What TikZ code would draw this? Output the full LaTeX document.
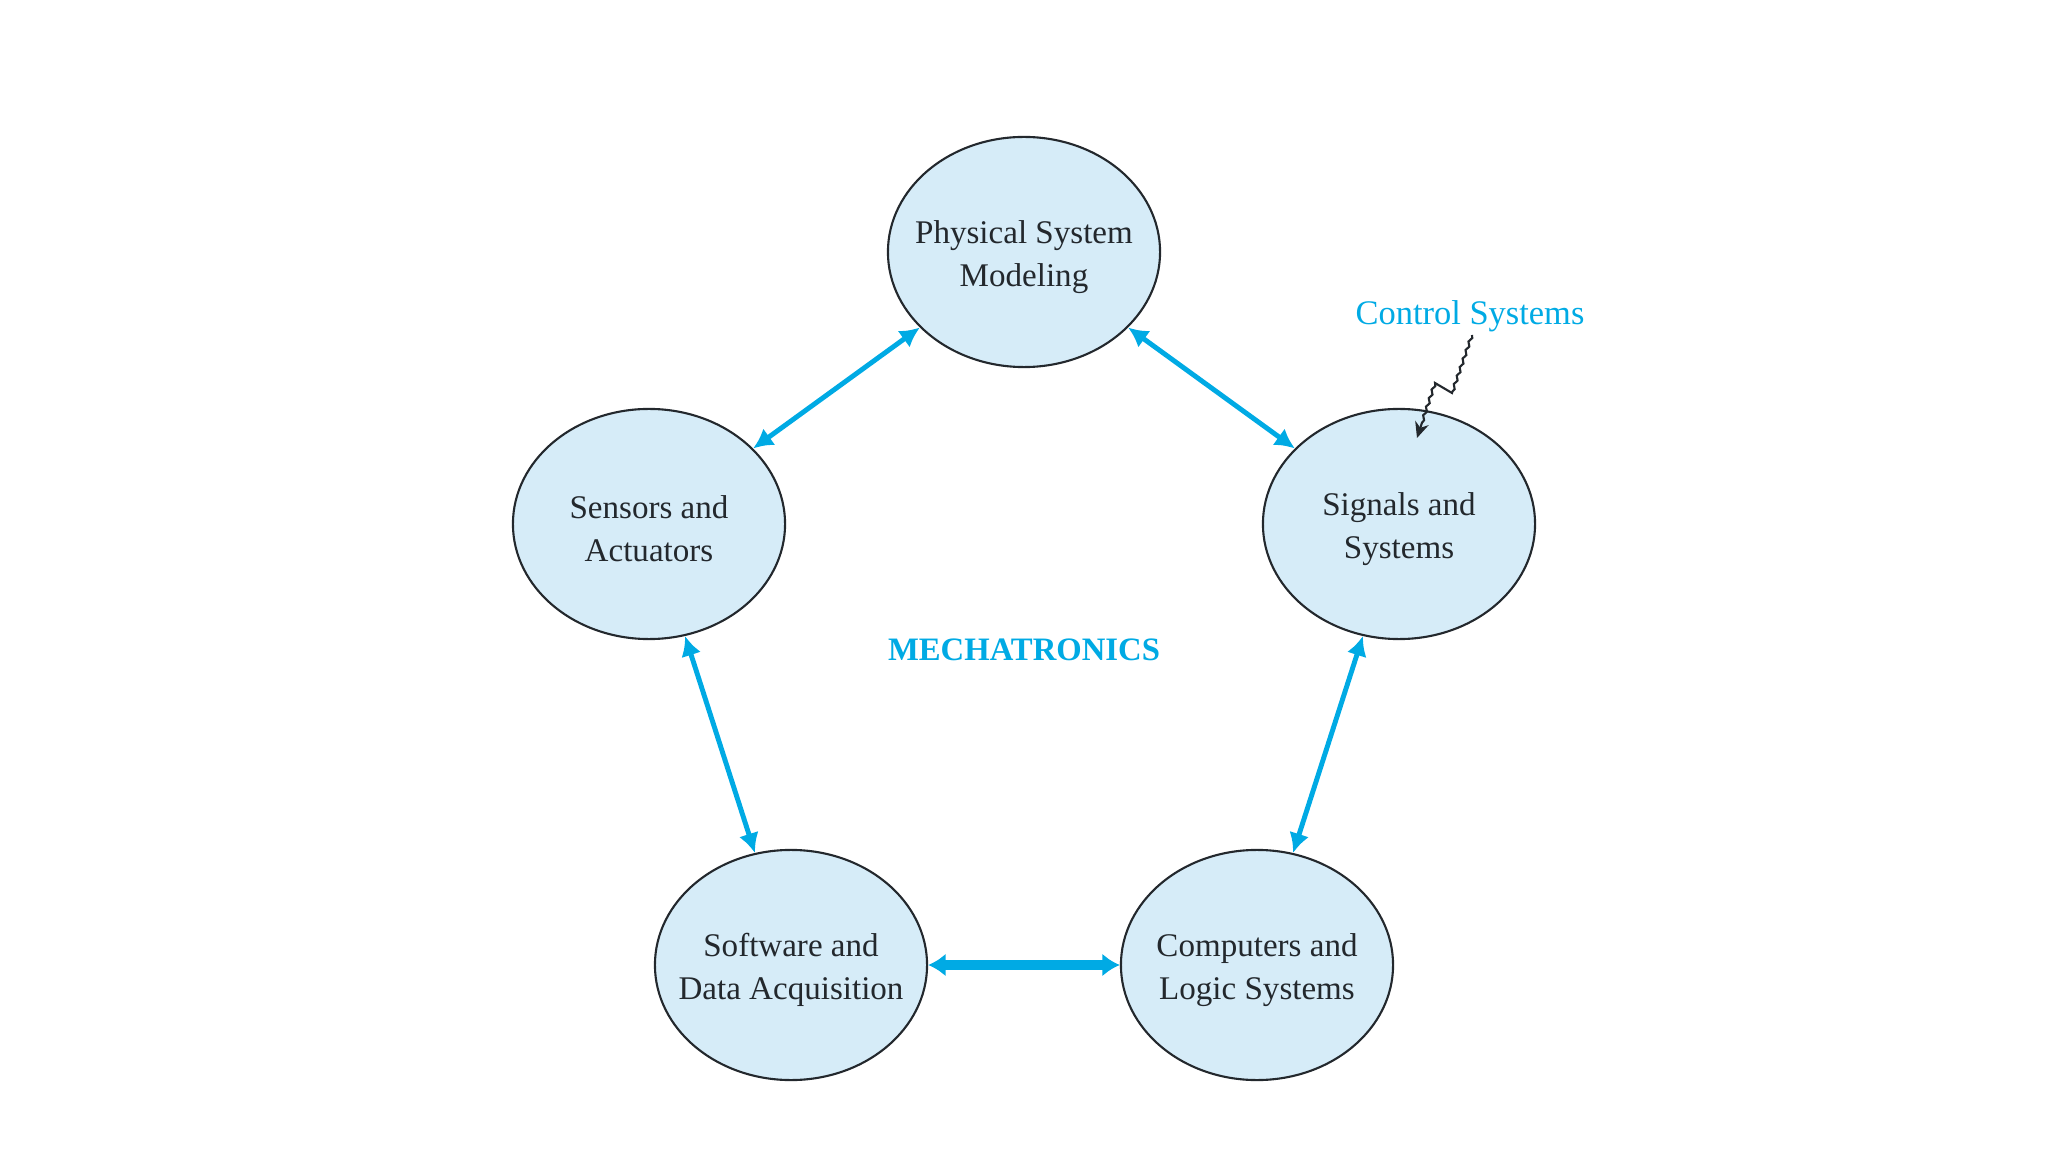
\documentclass[tikz,border=0pt]{standalone}
\usepackage{fontspec}
\setmainfont{Liberation Serif}
\usetikzlibrary{shapes.geometric,arrows.meta,decorations.pathmorphing}
\definecolor{mechblue}{RGB}{0,170,228}
\definecolor{blobfill}{RGB}{214,236,248}
\definecolor{inkgray}{RGB}{35,40,45}
\begin{document}
\begin{tikzpicture}[x=0.01cm, y=-0.01cm, font=\fontsize{9.4}{12.3}\selectfont,
	blob/.style={ellipse, draw=inkgray, line width=0.6pt, fill=blobfill, minimum width=2.72cm, minimum height=2.3cm, inner sep=0pt},
	txt/.style={align=center, text=inkgray, inner sep=0pt},
	link/.style={mechblue, line width=1.4pt, {Latex[length=5.6pt,width=5.8pt]}-{Latex[length=5.6pt,width=5.8pt]}},
	biglink/.style={mechblue, line width=2.8pt, {Latex[length=5pt,width=6.6pt]}-{Latex[length=5pt,width=6.6pt]}},
	wig/.style={decoration={snake, amplitude=0.35pt, segment length=0.9mm}}]
	\useasboundingbox (0,0) rectangle (2048,1152);
	\path (1472,335) coordinate (c1) (1452,393) coordinate (c2) (1435,383) coordinate (c3) (1417,438) coordinate (c4);
	\foreach \n/\x/\y/\t in {phys/1024/252/{Physical System\\Modeling}, sens/649/524/{Sensors and\\Actuators}, sig/1399/524/{Signals and\\Systems}, soft/791/965/{Software and\\Data Acquisition}, comp/1257/965/{Computers and\\Logic Systems}}{
	\node[blob] (\n) at (\x,\y) {};
	\node[txt] (\n-txt) at ([yshift=-1.4pt]\n.center) {\t};
	}
	\node[mechblue, font=\fontsize{9.3}{11}\selectfont\bfseries] (mech) at (1024,650) {MECHATRONICS};
	\node[mechblue, font=\fontsize{9.8}{12}\selectfont, inner sep=0pt] (ctrl) at (1470,316) {Control Systems};
	\draw[link] (sens) -- (phys);
	\draw[link] (phys) -- (sig);
	\draw[link] (sens) -- (soft);
	\draw[link] (sig) -- (comp);
	\draw[biglink] (soft) -- (comp);
	% wavy pointer
	\draw[inkgray, line width=0.6pt, -{Stealth[length=4.5pt,width=4pt]}] (c1) decorate[wig]{-- (c2)} -- (c3) decorate[wig, decoration={post length=1.5mm}]{-- (c4)};
\end{tikzpicture}
\end{document}
